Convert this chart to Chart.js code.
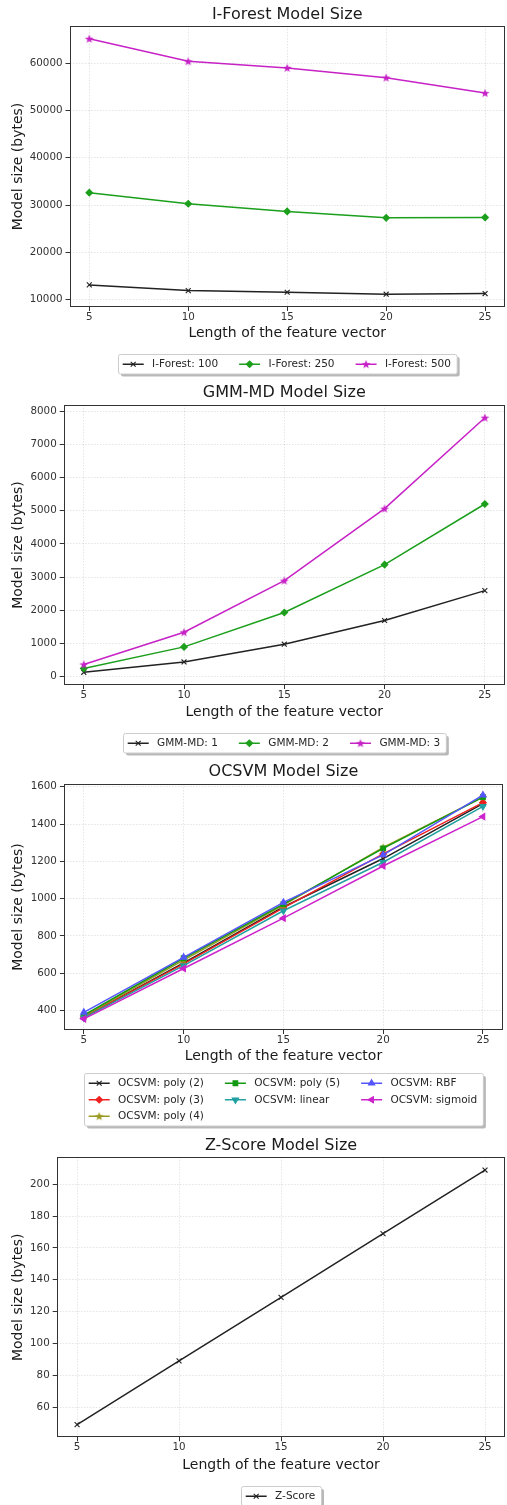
<!DOCTYPE html>
<html>
<head>
<meta charset="utf-8">
<title>Model size vs feature vector length</title>
<script src="https://cdn.jsdelivr.net/npm/chart.js@4.4.0/dist/chart.umd.min.js"></script>
<style>
  html, body { margin: 0; padding: 0; background: #fff; width: 507px; height: 1505px; overflow: hidden; }
  canvas { position: absolute; left: 0; }
</style>
</head>
<body>
<canvas id="iforestChart"></canvas>
<canvas id="gmmChart"></canvas>
<canvas id="ocsvmChart"></canvas>
<canvas id="zscoreChart"></canvas>
<script>
// --- DATA ---
const xValues = [5, 10, 15, 20, 25];
const xTicks = [5, 10, 15, 20, 25];

const iForest100 = [13100, 11900, 11550, 11130, 11280];
const iForest250 = [32620, 30280, 28660, 27300, 27380];
const iForest500 = [65190, 60420, 59020, 56960, 53700];
const iForestTicks = [10000, 20000, 30000, 40000, 50000, 60000];

const gmm1 = [130, 440, 975, 1690, 2590];
const gmm2 = [245, 895, 1930, 3375, 5200];
const gmm3 = [365, 1335, 2890, 5060, 7800];
const gmmTicks = [0, 1000, 2000, 3000, 4000, 5000, 6000, 7000, 8000];

const ocsvmPoly2 = [365, 655, 955, 1215, 1510];
const ocsvmPoly3 = [365, 650, 950, 1240, 1515];
const ocsvmPoly4 = [370, 670, 965, 1275, 1545];
const ocsvmPoly5 = [375, 680, 970, 1270, 1545];
const ocsvmLinear = [360, 640, 935, 1195, 1495];
const ocsvmRbf = [390, 685, 980, 1235, 1555];
const ocsvmSigmoid = [355, 625, 895, 1175, 1440];
const ocsvmTicks = [400, 600, 800, 1000, 1200, 1400, 1600];

const zScore = [49, 89, 129, 169, 209];
const zScoreTicks = [60, 80, 100, 120, 140, 160, 180, 200];

const FONT = "'DejaVu Sans', 'Liberation Sans', sans-serif";
Chart.defaults.font.family = FONT;
Chart.defaults.color = '#262626';

// bintang terisi ala marker '*' matplotlib
function starMarker(color) {
    const c = document.createElement('canvas');
    c.width = 10; c.height = 10;
    const g = c.getContext('2d');
    g.fillStyle = color;
    g.beginPath();
    for (let i = 0; i < 10; i++) {
        const r = i % 2 === 0 ? 4.6 : 1.9;
        const a = -Math.PI / 2 + i * Math.PI / 5;
        g.lineTo(5 + r * Math.cos(a), 5.4 + r * Math.sin(a));
    }
    g.closePath();
    g.fill();
    return c;
}

const MARKERS = {
    x: { pointStyle: 'crossRot', pointRotation: 0, pointRadius: 3.5, filled: false },
    d: { pointStyle: 'rectRot', pointRotation: 0, pointRadius: 3.3, filled: true },
    s: { pointStyle: 'rect', pointRotation: 0, pointRadius: 3.3, filled: true },
    v: { pointStyle: 'triangle', pointRotation: 180, pointRadius: 3.6, filled: true },
    '^': { pointStyle: 'triangle', pointRotation: 0, pointRadius: 3.6, filled: true },
    '<': { pointStyle: 'triangle', pointRotation: 270, pointRadius: 3.6, filled: true }
};

function makeDataset(label, values, color, marker, i, n) {
    const m = marker === '*'
        ? { pointStyle: starMarker(color), pointRotation: 0, pointRadius: 4, filled: true }
        : MARKERS[marker];
    return {
        label: label,
        data: xValues.map((x, j) => ({ x: x, y: values[j] })),
        borderColor: color,
        borderWidth: 1.5,
        tension: 0,
        fill: false,
        pointStyle: m.pointStyle,
        pointRotation: m.pointRotation,
        pointRadius: m.pointRadius,
        pointHoverRadius: m.pointRadius,
        pointBackgroundColor: m.filled ? color : 'rgba(0,0,0,0)',
        pointBorderColor: color,
        pointBorderWidth: 1.1,
        order: n - 1 - i // dataset terakhir digambar paling atas, seperti matplotlib
    };
}

// --- PLUGIN: bingkai sumbu (4 sisi) ---
const axesFrame = {
    id: 'axesFrame',
    afterDatasetsDraw(chart) {
        const { ctx, chartArea: a } = chart;
        ctx.save();
        ctx.strokeStyle = '#333';
        ctx.lineWidth = 1;
        const l = Math.round(a.left) + 0.5, t = Math.round(a.top) + 0.5;
        const r = Math.round(a.right) - 0.5, b = Math.round(a.bottom) - 0.5;
        ctx.strokeRect(l, t, r - l, b - t);
        ctx.restore();
    }
};

// --- PLUGIN: legenda di bawah grafik, kolom diisi seperti matplotlib ---
const mplLegend = {
    id: 'mplLegend',
    afterDraw(chart, args, opts) {
        const { ctx, chartArea: area } = chart;
        const sets = chart.data.datasets;
        const fs = 10.5;
        const ncol = Math.min(opts.ncol || sets.length, sets.length);
        const base = Math.floor(sets.length / ncol), extra = sets.length % ncol;
        const cols = [];
        let k = 0;
        for (let c = 0; c < ncol; c++) {
            const cnt = base + (c < extra ? 1 : 0);
            cols.push(sets.slice(k, k + cnt));
            k += cnt;
        }
        ctx.save();
        ctx.font = fs + 'px ' + FONT;
        const handle = 2 * fs, pad = 0.8 * fs, gap = 2 * fs, border = 0.4 * fs, rowH = 16.5;
        const colW = cols.map(c => handle + pad + Math.max(...c.map(d => ctx.measureText(d.label).width)));
        const width = 2 * border + 2 + colW.reduce((s, w) => s + w, 0) + gap * (ncol - 1);
        const height = cols[0].length * rowH + 3;
        const x0 = Math.round((area.left + area.right) / 2 - width / 2) + 0.5;
        const y0 = Math.round(area.bottom + opts.top) + 0.5;

        const box = (x, y) => {
            ctx.beginPath();
            if (ctx.roundRect) ctx.roundRect(x, y, width, height, 2);
            else ctx.rect(x, y, width, height);
        };
        ctx.fillStyle = 'rgba(0,0,0,0.28)';
        box(x0 + 2.5, y0 + 2.5);
        ctx.fill();
        ctx.fillStyle = '#fff';
        ctx.strokeStyle = '#cccccc';
        ctx.lineWidth = 1;
        box(x0, y0);
        ctx.fill();
        ctx.stroke();

        let cx = x0 + border;
        cols.forEach((col, c) => {
            col.forEach((d, r) => {
                const cy = y0 + 1.5 + rowH / 2 + r * rowH;
                ctx.strokeStyle = d.borderColor;
                ctx.lineWidth = d.borderWidth;
                ctx.beginPath();
                ctx.moveTo(cx, cy);
                ctx.lineTo(cx + handle, cy);
                ctx.stroke();
                ctx.fillStyle = d.pointBackgroundColor;
                ctx.strokeStyle = d.pointBorderColor;
                ctx.lineWidth = d.pointBorderWidth;
                Chart.helpers.drawPoint(ctx, {
                    pointStyle: d.pointStyle,
                    rotation: d.pointRotation,
                    radius: d.pointRadius,
                    borderWidth: d.pointBorderWidth
                }, cx + handle / 2, cy);
                ctx.fillStyle = '#262626';
                ctx.textAlign = 'left';
                ctx.textBaseline = 'middle';
                ctx.fillText(d.label, cx + handle + pad, cy + 0.5);
            });
            cx += colW[c] + gap;
        });
        ctx.restore();
    }
};

// --- FUNGSI UNTUK MERENDER SATU GRAFIK ---
function renderChart(id, title, datasets, yTicks, box, ncol) {
    const canvas = document.getElementById(id);
    canvas.width = box.width;
    canvas.height = box.height;
    canvas.style.top = box.top + 'px';
    canvas.style.width = box.width + 'px';
    canvas.style.height = box.height + 'px';

    const titleLH = 16 * 1.2;
    const titlePadTop = box.titleY - box.top - titleLH / 2;
    const titlePadBottom = (box.plotTop - box.top) - titlePadTop - titleLH;
    const xScaleHeight = box.xTitleY - box.plotBottom + 14 * 1.2 / 2;
    const bottomPad = (box.top + box.height) - box.plotBottom - xScaleHeight;

    // batas sumbu y dengan margin 5% seperti matplotlib
    const all = datasets.flatMap(d => d.data.map(p => p.y));
    const lo = Math.min(...all), hi = Math.max(...all), m = (hi - lo) * 0.05;

    const grid = { color: 'rgba(0,0,0,0.13)', lineWidth: 0.8, drawTicks: true, tickLength: 4, tickColor: '#333', tickWidth: 1, tickBorderDash: [] };
    const border = { display: false, dash: [1.5, 1.5] };
    const tickFont = { size: 10.3 };

    return new Chart(canvas, {
        type: 'line',
        data: { datasets: datasets },
        options: {
            responsive: false,
            animation: false,
            events: [],
            layout: { padding: { left: 0, top: 0, right: box.width - box.plotRight, bottom: bottomPad } },
            plugins: {
                legend: { display: false },
                tooltip: { enabled: false },
                title: {
                    display: true, text: title, fullSize: false, color: '#1a1a1a',
                    font: { size: 16, weight: 'normal' },
                    padding: { top: titlePadTop, bottom: titlePadBottom }
                },
                mplLegend: { top: box.legendTop - box.plotBottom, ncol: ncol }
            },
            scales: {
                x: {
                    type: 'linear', min: 4, max: 26,
                    afterBuildTicks: s => { s.ticks = xTicks.map(v => ({ value: v })); },
                    afterFit: s => { s.height = xScaleHeight; },
                    ticks: { font: tickFont, color: '#333', padding: 0, maxRotation: 0, autoSkip: false, callback: v => String(v) },
                    grid: grid, border: border,
                    title: { display: true, text: 'Length of the feature vector', color: '#1a1a1a', font: { size: 14 }, padding: 0 }
                },
                y: {
                    type: 'linear', min: lo - m, max: hi + m,
                    afterBuildTicks: s => { s.ticks = yTicks.map(v => ({ value: v })); },
                    afterFit: s => { s.width = box.plotLeft; },
                    ticks: { font: tickFont, color: '#333', padding: 3, autoSkip: false, callback: v => String(v) },
                    grid: grid, border: border,
                    title: { display: true, text: 'Model size (bytes)', color: '#1a1a1a', font: { size: 14 }, padding: { top: 18.3 - 8.4, bottom: 0 } }
                }
            }
        },
        plugins: [axesFrame, mplLegend]
    });
}

const BLACK = '#222222', GREEN = '#1c9f1c', MAGENTA = '#c622c6';

renderChart('iforestChart', 'I-Forest Model Size', [
    makeDataset('I-Forest: 100', iForest100, BLACK, 'x', 0, 3),
    makeDataset('I-Forest: 250', iForest250, GREEN, 'd', 1, 3),
    makeDataset('I-Forest: 500', iForest500, MAGENTA, '*', 2, 3)
], iForestTicks, { top: 0, height: 380, width: 510, plotTop: 26, plotBottom: 307, plotLeft: 69.5, plotRight: 509.5, titleY: 15, xTitleY: 333.3, legendTop: 354 }, 3);

renderChart('gmmChart', 'GMM-MD Model Size', [
    makeDataset('GMM-MD: 1', gmm1, BLACK, 'x', 0, 3),
    makeDataset('GMM-MD: 2', gmm2, GREEN, 'd', 1, 3),
    makeDataset('GMM-MD: 3', gmm3, MAGENTA, '*', 2, 3)
], gmmTicks, { top: 380, height: 380, width: 510, plotTop: 405, plotBottom: 685, plotLeft: 63.7, plotRight: 509.6, titleY: 392.5, xTitleY: 712, legendTop: 733 }, 3);

renderChart('ocsvmChart', 'OCSVM Model Size', [
    makeDataset('OCSVM: poly (2)', ocsvmPoly2, BLACK, 'x', 0, 7),
    makeDataset('OCSVM: poly (3)', ocsvmPoly3, '#ee2020', 'd', 1, 7),
    makeDataset('OCSVM: poly (4)', ocsvmPoly4, '#9a9a20', '*', 2, 7),
    makeDataset('OCSVM: poly (5)', ocsvmPoly5, '#119911', 's', 3, 7),
    makeDataset('OCSVM: linear', ocsvmLinear, '#20a0a0', 'v', 4, 7),
    makeDataset('OCSVM: RBF', ocsvmRbf, '#5555ff', '^', 5, 7),
    makeDataset('OCSVM: sigmoid', ocsvmSigmoid, '#cc22cc', '<', 6, 7)
], ocsvmTicks, { top: 760, height: 372, width: 508, plotTop: 784, plotBottom: 1030, plotLeft: 63.9, plotRight: 507.5, titleY: 772, xTitleY: 1056.7, legendTop: 1073 }, 3);

renderChart('zscoreChart', 'Z-Score Model Size', [
    makeDataset('Z-Score', zScore, BLACK, 'x', 0, 1)
], zScoreTicks, { top: 1132, height: 373, width: 510, plotTop: 1157.3, plotBottom: 1437.3, plotLeft: 56.7, plotRight: 509, titleY: 1146, xTitleY: 1465, legendTop: 1485.7 }, 1);
</script>
</body>
</html>
